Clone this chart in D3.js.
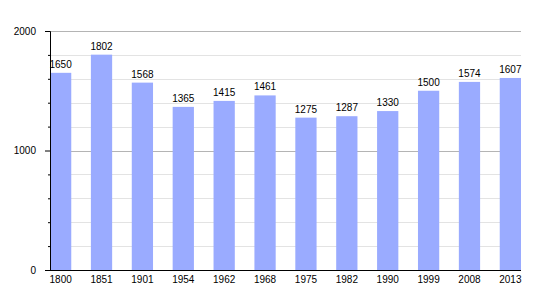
<!DOCTYPE html>
<html>
<head>
<meta charset="utf-8">
<script src="https://cdn.jsdelivr.net/npm/d3@7"></script>
<style>
  body { margin: 0; background: #fff; }
  text { font-family: "Liberation Sans", Arial, sans-serif; font-size: 10px; fill: #000; }
</style>
</head>
<body>
<div id="chart"></div>
<script>
const years = ['1800', '1851', '1901', '1954', '1962', '1968', '1975', '1982', '1990', '1999', '2008', '2013'];
const population = [1650, 1802, 1568, 1365, 1415, 1461, 1275, 1287, 1330, 1500, 1574, 1607];
const majorTicks = [0, 1000, 2000];
const minorTicks = [200, 400, 600, 800, 1200, 1400, 1600, 1800];

const width = 550;
const height = 300;
const plotLeft = 50, plotRight = 521, plotTop = 31, plotBottom = 270;

const svg = d3.select('#chart')
.append('svg')
.attr('width', width)
.attr('height', height);

const scaleX = d3.scaleBand()
.domain(years)
.range([plotLeft, plotRight])
.paddingInner(0.48)
.paddingOuter(0)
.align(0);

const scaleY = d3.scaleLinear()
.domain([0, 2000])
.range([plotBottom, plotTop]);

// grid lines
const grid = svg.append('g');
grid.selectAll('line.minor')
.data(minorTicks)
.join('line')
.attr('class', 'minor')
.attr('x1', plotLeft)
.attr('x2', plotRight)
.attr('y1', d => Math.round(scaleY(d)) + 0.5)
.attr('y2', d => Math.round(scaleY(d)) + 0.5)
.attr('stroke', '#e3e3e3')
.attr('stroke-width', 1);

grid.selectAll('line.major')
.data(majorTicks.filter(d => d > 0))
.join('line')
.attr('class', 'major')
.attr('x1', plotLeft)
.attr('x2', plotRight)
.attr('y1', d => Math.round(scaleY(d)) + 0.5)
.attr('y2', d => Math.round(scaleY(d)) + 0.5)
.attr('stroke', '#b4b4b4')
.attr('stroke-width', 1);

// bars
svg.append('g')
.selectAll('rect')
.data(population)
.join('rect')
.attr('x', (d, i) => scaleX(years[i]))
.attr('width', scaleX.bandwidth())
.attr('y', d => scaleY(d))
.attr('height', d => scaleY(0) - scaleY(d))
.attr('fill', '#9aabff');

// value labels
svg.append('g')
.selectAll('text')
.data(population)
.join('text')
.attr('x', (d, i) => scaleX(years[i]) + scaleX.bandwidth() / 2)
.attr('y', d => scaleY(d) - 5)
.attr('text-anchor', 'middle')
.text(d => d);

// y axis
const axisY = d3.axisLeft(scaleY)
.tickValues(majorTicks)
.tickSize(5)
.tickPadding(9)
.tickFormat(d3.format('d'));

const gy = svg.append('g')
.attr('transform', `translate(${plotLeft}, 0)`)
.call(axisY);
gy.select('.domain').attr('stroke', '#000');
gy.selectAll('text').style('font-size', '10px').attr('fill', '#000');

const axisYMinor = d3.axisLeft(scaleY)
.tickValues(minorTicks)
.tickSize(2)
.tickFormat('');
svg.append('g')
.attr('transform', `translate(${plotLeft}, 0)`)
.call(axisYMinor)
.select('.domain').remove();

// x axis
const axisX = d3.axisBottom(scaleX)
.tickSize(0)
.tickPadding(6);

const gx = svg.append('g')
.attr('transform', `translate(0, ${plotBottom})`)
.call(axisX);
gx.select('.domain').attr('d', `M${plotLeft - 5},0.5H${plotRight}`).attr('stroke', '#000');
gx.selectAll('text').style('font-size', '10px').attr('fill', '#000');
</script>
</body>
</html>
